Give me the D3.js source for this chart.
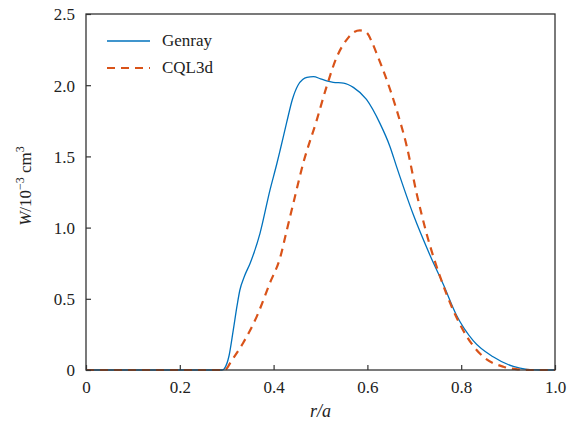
<!DOCTYPE html>
<html><head><meta charset="utf-8">
<script src="https://cdn.jsdelivr.net/npm/d3@7"></script>
<style>body{margin:0;background:#fff}</style>
</head><body>
<svg id="c" width="581" height="426"></svg>
<script>
const FONT = "Liberation Serif";
const xTicks = [0, 0.2, 0.4, 0.6, 0.8, 1.0];
const xTickLabels = ["0", "0.2", "0.4", "0.6", "0.8", "1.0"];
const yTicks = [0, 0.5, 1.0, 1.5, 2.0, 2.5];
const yTickLabels = ["0", "0.5", "1.0", "1.5", "2.0", "2.5"];
const seriesNames = ["Genray", "CQL3d"];
const genrayR = [0, 0.1, 0.2, 0.29, 0.295, 0.305, 0.314, 0.322, 0.328, 0.338, 0.35, 0.371, 0.392, 0.407, 0.414, 0.428, 0.44, 0.452, 0.462, 0.471, 0.485, 0.5, 0.513, 0.527, 0.549, 0.57, 0.598, 0.627, 0.648, 0.662, 0.698, 0.733, 0.762, 0.79, 0.826, 0.868, 0.911, 0.94, 0.97, 1.0];
const genrayW = [0, 0, 0, 0, 0.01, 0.1, 0.28, 0.45, 0.56, 0.66, 0.75, 0.96, 1.26, 1.45, 1.545, 1.74, 1.9, 2.0, 2.04, 2.055, 2.06, 2.045, 2.03, 2.02, 2.015, 1.985, 1.90, 1.73, 1.57, 1.43, 1.09, 0.81, 0.60, 0.385, 0.205, 0.093, 0.025, 0.005, 0, 0];
const cqlR = [0, 0.1, 0.2, 0.295, 0.3, 0.307, 0.335, 0.364, 0.392, 0.414, 0.428, 0.442, 0.463, 0.492, 0.513, 0.535, 0.556, 0.57, 0.584, 0.598, 0.61, 0.62, 0.641, 0.662, 0.684, 0.705, 0.726, 0.755, 0.783, 0.812, 0.847, 0.89, 0.92, 0.96, 1.0];
const cqlW = [0, 0, 0, 0, 0.01, 0.047, 0.19, 0.375, 0.61, 0.79, 0.98, 1.17, 1.45, 1.755, 1.99, 2.20, 2.32, 2.37, 2.385, 2.37, 2.3, 2.22, 2.04, 1.83, 1.57, 1.24, 0.96, 0.655, 0.42, 0.235, 0.093, 0.023, 0.005, 0, 0];

const svg = d3.select("#c");
const L = 86, R = 555, T = 14, B = 370;
const x = d3.scaleLinear().domain([0, 1]).range([L, R]);
const y = d3.scaleLinear().domain([0, 2.5]).range([B, T]);

const line = d3.line().x(d => x(d[0])).y(d => y(d[1])).curve(d3.curveMonotoneX);

svg.append("path").datum(genrayR.map((r, i) => [r, genrayW[i]]))
  .attr("d", line).attr("fill", "none").attr("stroke", "#0072BD").attr("stroke-width", 1.3);
svg.append("path").datum(cqlR.map((r, i) => [r, cqlW[i]]))
  .attr("d", line).attr("fill", "none").attr("stroke", "#D95319").attr("stroke-width", 2.2)
  .attr("stroke-dasharray", "8,6");

svg.append("rect").attr("x", L).attr("y", T).attr("width", R - L).attr("height", B - T)
  .attr("fill", "none").attr("stroke", "#333").attr("stroke-width", 1.3);

const xAxis = d3.axisBottom(x).tickValues(xTicks).tickSizeInner(-5).tickSizeOuter(0).tickPadding(11)
  .tickFormat((d, i) => xTickLabels[i]);
const gx = svg.append("g").attr("transform", `translate(0,${B})`).call(xAxis);
const yAxis = d3.axisLeft(y).tickValues(yTicks).tickSizeInner(-5).tickSizeOuter(0).tickPadding(11)
  .tickFormat((d, i) => yTickLabels[i]);
const gy = svg.append("g").attr("transform", `translate(${L},0)`).call(yAxis);
[gx, gy].forEach(g => {
  g.attr("font-family", FONT);
  g.select(".domain").remove();
  g.selectAll(".tick line").attr("stroke", "#333").attr("stroke-width", 1.2);
  g.selectAll(".tick text").attr("font-size", 17).attr("fill", "#222");
});
gy.selectAll(".tick text").attr("dy", "0.35em");

svg.append("text").attr("font-family", FONT).attr("fill", "#222").attr("x", (L + R) / 2).attr("y", 417).attr("text-anchor", "middle")
  .attr("font-size", 18).attr("font-style", "italic").text("r/a");
const yl = svg.append("text").attr("font-family", FONT).attr("fill", "#222").attr("transform", `translate(31,186) rotate(-90)`).attr("text-anchor", "middle").attr("font-size", 17);
yl.append("tspan").attr("font-style", "italic").text("W");
yl.append("tspan").text("/10");
yl.append("tspan").attr("font-size", 12).attr("dy", -7).text("−3");
yl.append("tspan").attr("dy", 7).text(" cm");
yl.append("tspan").attr("font-size", 12).attr("dy", -7).text("3");

const leg = svg.append("g").attr("font-family", FONT);
const legColors = ["#0072BD", "#D95319"];
seriesNames.forEach((n, i) => {
  const yy = 41 + i * 27;
  const l = leg.append("line").attr("x1", 107).attr("x2", 150).attr("y1", yy).attr("y2", yy)
    .attr("stroke", legColors[i]).attr("stroke-width", i ? 2.2 : 1.3);
  if (i) l.attr("stroke-dasharray", "8,6");
  leg.append("text").attr("x", 162).attr("y", yy + 5).attr("font-size", 17).attr("fill", "#222").text(n);
});
</script>
</body></html>
